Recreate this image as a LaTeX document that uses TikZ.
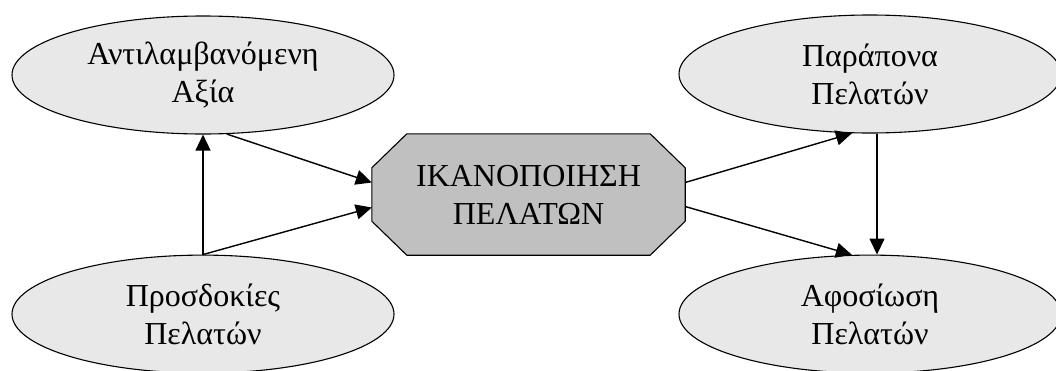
\documentclass[tikz,border=0pt]{standalone}
\usepackage{fontspec}
\setmainfont{Liberation Serif}
\usetikzlibrary{arrows.meta, positioning, shapes.geometric, backgrounds}
\definecolor{ovalgray}{HTML}{E8E8E8}
\definecolor{satgray}{HTML}{C0C0C0}

\begin{document}
\begin{tikzpicture}[
    x=1pt, y=-1pt,
    every node/.style={font=\fontsize{32}{38}\selectfont},
    oval/.style={draw, ellipse, fill=ovalgray, line width=1.1pt, minimum width=382pt, minimum height=118pt, inner sep=0pt, align=center},
    sat/.style={minimum width=313pt, minimum height=121pt, inner sep=0pt, align=center},
    satline/.style={draw, fill=satgray, line width=1.1pt, line join=miter},
    ar/.style={-{Triangle[length=16pt, width=15pt]}, line width=1.4pt}
]
\useasboundingbox (0,0) rectangle (1056,370);
\node[sat] (sat) at (528.5,194.5) {ΙΚΑΝΟΠΟΙΗΣΗ\\ΠΕΛΑΤΩΝ};
\begin{scope}[on background layer]
\path[satline] ([xshift=35pt]sat.north west) -- ([xshift=-35pt]sat.north east)
    -- ([yshift=-34pt]sat.north east) -- ([yshift=34pt]sat.south east)
    -- ([xshift=-35pt]sat.south east) -- ([xshift=35pt]sat.south west)
    -- ([yshift=34pt]sat.south west) -- ([yshift=-34pt]sat.north west) -- cycle;
\end{scope}
\node[oval] (value) at (203,75) {Αντιλαμβανόμενη\\Αξία};
\node[oval, below=120pt of value] (expect) {Προσδοκίες\\Πελατών};
\node[oval] (compl) at (870,74) {Παράπονα\\Πελατών};
\node[oval, below=121pt of compl] (loyal) {Αφοσίωση\\Πελατών};
\draw[ar] (value.-68) -- ([yshift=12pt]sat.west);
\draw[ar] (expect.north) -- ([yshift=-13pt]sat.west);
\draw[ar] (expect.north) -- (value.south);
\draw[ar] ([yshift=12pt]sat.east) -- (compl.-107);
\draw[ar] ([yshift=-12pt]sat.east) -- (loyal.107);
\draw[ar] ([xshift=7pt]compl.south) -- ([xshift=7pt]loyal.north);
\end{tikzpicture}
\end{document}
